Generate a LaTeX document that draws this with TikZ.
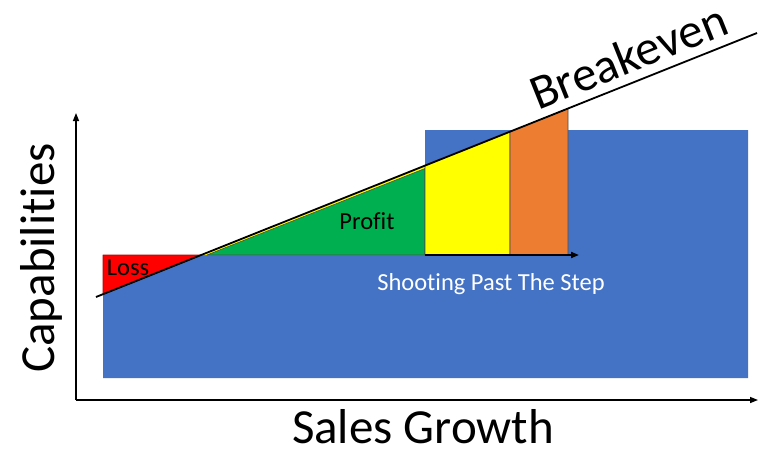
\documentclass[tikz,border=0pt]{standalone}
\usepackage{fontspec}
\setmainfont{Carlito}[Ligatures=NoCommon]
\usetikzlibrary{positioning,calc,arrows.meta}
\definecolor{stepblue}{HTML}{4472C4}
\definecolor{lossred}{HTML}{FF0000}
\definecolor{profitgreen}{HTML}{00B050}
\definecolor{pastyellow}{HTML}{FFFF00}
\definecolor{pastorange}{HTML}{ED7D31}
\tikzset{
	breakeven chart/.style={
		x=1pt,y=-1pt,
		line join=round,
		big label/.style={
			font=\fontsize{49}{56}\selectfont,
			inner sep=0pt
		},
		small label/.style={
			font=\fontsize{24.5}{29}\selectfont,
			inner sep=0pt
		}
	},
	region/.style={
		draw=black!70,
		line width=0.6pt
	},
	axis/.style={
		line width=1.4pt,
		-{Triangle[length=8pt,width=6pt]}
	},
	breakeven line/.style={
		line width=1.8pt
	}
}

\begin{document}
\begin{tikzpicture}[breakeven chart]
	\useasboundingbox (0,0) rectangle (778,467);
	% corner points
	\coordinate (origin) at (76,400);
	\coordinate (y top) at (76,113);
	\coordinate (x end) at (758,400);
	\coordinate (be start) at (96,297);
	\coordinate (be end) at (757,33);
	\coordinate (step start) at (425,255);
	\coordinate (step end) at (579,255);
	% capabilities
	\fill[stepblue] (103,378) -- (748,378) -- (748,130) -- (425,130) -- (425,255) -- (103,255) -- cycle;
	\fill[region,lossred,draw=lossred!70!black] (103,255) -- (201,255) -- (103,294.2) -- cycle;
	\fill[pastyellow] (201,255) -- (510,131.6) -- (510,255) -- cycle;
	\filldraw[region,fill=profitgreen] (207,255) -- (425,168.5) -- (425,255) -- cycle;
	\filldraw[region,fill=pastyellow] (425,255) -- (425,165.6) -- (510,131.6) -- (510,255) -- cycle;
	\filldraw[region,fill=pastorange] (510,255) -- (510,131.6) -- (568,108.5) -- (568,255) -- cycle;
	% lines
	\draw[breakeven line] (be start) -- (be end);
	\draw[axis] (origin) -- (y top);
	\draw[axis] (origin) -- (x end);
	\draw[axis,line width=1.8pt] (step start) -- (step end);
	% labels
	\node[small label,anchor=base] (loss) at (128,275) {Loss};
	\node[small label,anchor=base] (profit) at (367,229) {Profit};
	\node[small label,anchor=base,text=white] (shooting) at (491,290) {Shooting Past The Step};
	\node[big label,anchor=base] (sales) at (423,443) {Sales Growth};
	\node[big label,anchor=base,rotate=90] (capabilities) at (54,258) {Capabilities};
	\node[big label,anchor=south,rotate=21.8,inner sep=9pt] (breakeven) at ($(be start)!0.82!(be end)$) {Breakeven};
\end{tikzpicture}
\end{document}
